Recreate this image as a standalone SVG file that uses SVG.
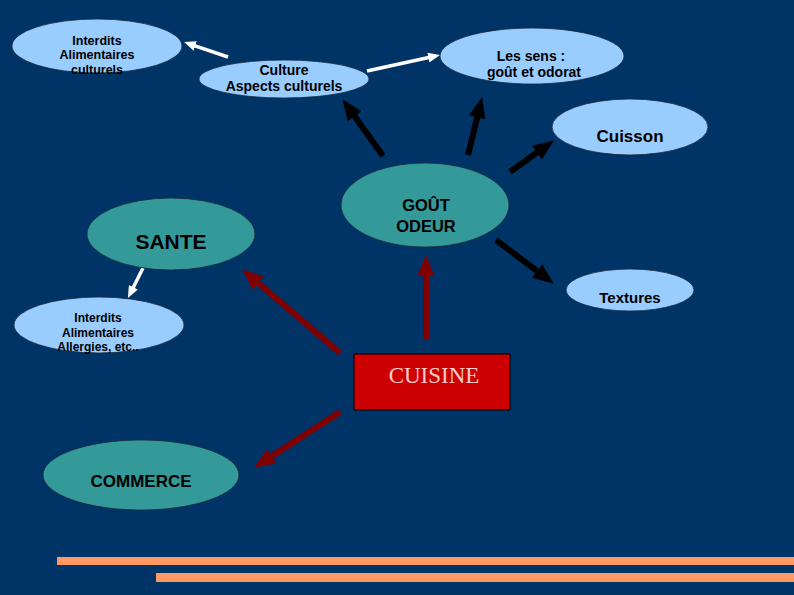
<svg xmlns="http://www.w3.org/2000/svg" width="794" height="595" viewBox="0 0 794 595">
<style>
.lb{fill:#99ccff;stroke:#1a2a3a;stroke-width:0.8}
.tl{fill:#339999;stroke:#1a2a3a;stroke-width:0.8}
text{font-family:"Liberation Sans",Arial,sans-serif;font-weight:bold;fill:#000;text-anchor:middle}
.s{font-size:12.5px}
.m{font-size:14px}
.k{stroke:#000;stroke-width:6;fill:none}
.r{stroke:#800000;stroke-width:6;fill:none}
.w{stroke:#fff;stroke-width:3.5;fill:none}
</style>
<defs>
<marker id="hk" markerUnits="userSpaceOnUse" markerWidth="21" markerHeight="17" refX="8" refY="8.5" orient="auto"><path d="M0,0 L21,8.5 L0,17 z" fill="#000"/></marker>
<marker id="hr" markerUnits="userSpaceOnUse" markerWidth="21" markerHeight="17" refX="8" refY="8.5" orient="auto"><path d="M0,0 L21,8.5 L0,17 z" fill="#800000"/></marker>
<marker id="hw" markerUnits="userSpaceOnUse" markerWidth="12" markerHeight="10" refX="5" refY="5" orient="auto"><path d="M0,0 L12,5 L0,10 z" fill="#fff"/></marker>
</defs>
<rect x="0" y="0" width="794" height="595" fill="#003366"/>
<rect x="57" y="557" width="737" height="8" fill="#ff9966"/>
<rect x="156" y="573" width="638" height="9" fill="#ff9966"/>
<g id="connectors">
<line class="k" x1="383" y1="156" x2="350" y2="109.8" marker-end="url(#hk)"/>
<line class="k" x1="468" y1="155" x2="479.1" y2="109.7" marker-end="url(#hk)"/>
<line class="k" x1="510" y1="172" x2="543.3" y2="148" marker-end="url(#hk)"/>
<line class="k" x1="496" y1="240" x2="543.4" y2="275.8" marker-end="url(#hk)"/>
<line class="r" x1="426" y1="340" x2="426" y2="268" marker-end="url(#hr)"/>
<line class="r" x1="340" y1="353" x2="252.1" y2="277.8" marker-end="url(#hr)"/>
<line class="r" x1="340" y1="412" x2="265.1" y2="460.5" marker-end="url(#hr)"/>
<line class="w" x1="228" y1="57" x2="190.6" y2="44.3" marker-end="url(#hw)"/>
<line class="w" x1="367" y1="71" x2="433.2" y2="56.5" marker-end="url(#hw)"/>
<line class="w" x1="143" y1="268" x2="131.1" y2="291.7" marker-end="url(#hw)"/>
</g>
<g id="interdits-culturels">
<ellipse class="lb" cx="97" cy="46" rx="85" ry="27"/>
<text class="s" x="97" y="45">Interdits</text>
<text class="s" x="97" y="59">Alimentaires</text>
<text class="s" x="97" y="74">culturels</text>
</g>
<g id="culture">
<ellipse class="lb" cx="284" cy="79" rx="85" ry="19"/>
<text class="m" x="284" y="75">Culture</text>
<text class="m" x="284" y="91">Aspects culturels</text>
</g>
<g id="les-sens">
<ellipse class="lb" cx="532" cy="56" rx="92" ry="28"/>
<text class="m" x="531" y="61">Les sens :</text>
<text class="m" x="534" y="77">goût et odorat</text>
</g>
<g id="cuisson">
<ellipse class="lb" cx="630" cy="127" rx="78" ry="28"/>
<text x="630" y="142" style="font-size:17px">Cuisson</text>
</g>
<g id="gout-odeur">
<ellipse class="tl" cx="425" cy="205" rx="84" ry="42"/>
<text x="426" y="211" style="font-size:16.5px">GOÛT</text>
<text x="426" y="232" style="font-size:16.5px">ODEUR</text>
</g>
<g id="textures">
<ellipse class="lb" cx="630" cy="290" rx="64" ry="21"/>
<text x="630" y="303" style="font-size:15px">Textures</text>
</g>
<g id="sante">
<ellipse class="tl" cx="171" cy="234" rx="84" ry="36"/>
<text x="171" y="249" style="font-size:21px">SANTE</text>
</g>
<g id="interdits-allergies">
<ellipse class="lb" cx="99" cy="325" rx="85" ry="28"/>
<text x="98" y="322" style="font-size:12px">Interdits</text>
<text x="98" y="336.5" style="font-size:12px">Alimentaires</text>
<text x="98" y="350.5" style="font-size:12px">Allergies, etc..</text>
</g>
<g id="cuisine">
<rect x="354" y="354" width="156" height="56" fill="#cc0000" stroke="#000" stroke-width="1"/>
<text x="434" y="383" style="font-family:'Liberation Serif','Times New Roman',serif;font-weight:normal;font-size:23px;fill:#ffcccc">CUISINE</text>
</g>
<g id="commerce">
<ellipse class="tl" cx="141" cy="475" rx="98" ry="35"/>
<text x="141" y="487" style="font-size:17px">COMMERCE</text>
</g>
</svg>
